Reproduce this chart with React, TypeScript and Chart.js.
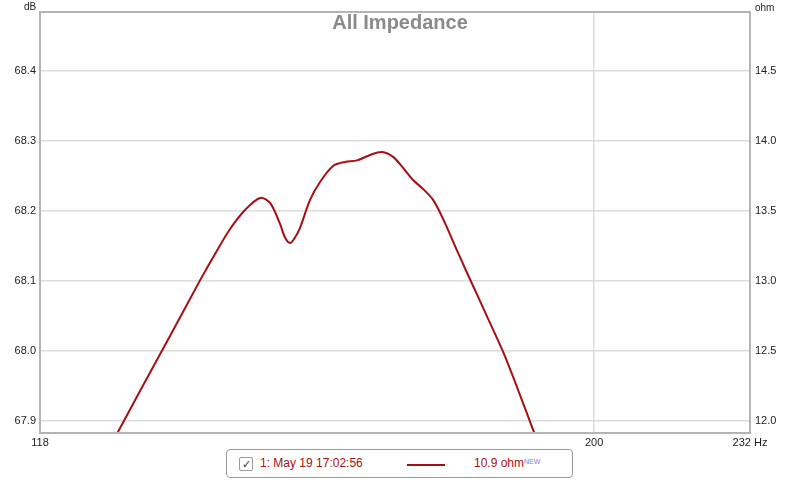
import React, { useEffect, useRef } from "react";
import { Chart, registerables } from "chart.js";

Chart.register(...registerables);

const FREQS: number[] = [
  125.54, 129.79, 133.55, 137.42, 139.4, 141.41, 143.44, 145.5, 146.9, 148.3, 149.01, 149.72,
  150.43, 151.15, 152.6, 154.06, 155.98, 157.77, 159.59, 161.58, 163.43, 165.16, 166.74, 168.33,
  169.94, 171.57, 173.21, 175.7, 178.23, 180.8, 183.4, 186.04, 188.71, 189.98,
];
const OHMS: number[] = [
  11.75, 12.214, 12.607, 13.004, 13.193, 13.371, 13.507, 13.593, 13.557, 13.407, 13.31, 13.271,
  13.31, 13.379, 13.579, 13.707, 13.821, 13.85, 13.861, 13.9, 13.921, 13.886, 13.807, 13.721,
  13.657, 13.579, 13.443, 13.2, 12.964, 12.729, 12.493, 12.221, 11.936, 11.814,
];
const X_TICKS: number[] = [118, 200, 232];
const DB_TICKS: number[] = [67.9, 68.0, 68.1, 68.2, 68.3, 68.4];
const OHM_TICKS: number[] = [12.0, 12.5, 13.0, 13.5, 14.0, 14.5];

const TITLE = "All Impedance";
const LINE_COLOR = "#a50f12";
const FONT = "'Liberation Sans', Arial, sans-serif";

export default function App() {
  const canvasRef = useRef<HTMLCanvasElement | null>(null);

  useEffect(() => {
    document.body.style.margin = "0";
    const canvas = canvasRef.current;
    if (!canvas) return;

    const framePlugin = {
      id: "frameAndTitle",
      afterDatasetsDraw(chart: any) {
        const { ctx, chartArea } = chart;
        ctx.save();
        ctx.strokeStyle = "#b4b4b4";
        ctx.lineWidth = 2;
        ctx.strokeRect(chartArea.left, chartArea.top, chartArea.right - chartArea.left, chartArea.bottom - chartArea.top);
        ctx.fillStyle = "#8a8a8a";
        ctx.font = `bold 20px ${FONT}`;
        ctx.textAlign = "center";
        ctx.textBaseline = "alphabetic";
        ctx.fillText(TITLE, 400, 29);
        ctx.fillStyle = "#222";
        ctx.font = `10px ${FONT}`;
        ctx.textAlign = "left";
        ctx.fillText("dB", 24, 10);
        ctx.fillText("ohm", 755, 11);
        ctx.restore();
      },
    };

    const chart = new Chart(canvas, {
      type: "line",
      data: {
        datasets: [
          {
            label: "1: May 19 17:02:56",
            data: FREQS.map((f, i) => ({ x: f, y: OHMS[i] })),
            borderColor: LINE_COLOR,
            borderWidth: 2,
            pointRadius: 0,
            fill: false,
            tension: 0.3,
            yAxisID: "y1",
          },
        ],
      },
      options: {
        animation: false,
        responsive: false,
        maintainAspectRatio: false,
        layout: { padding: { top: 12, left: 0, right: 0, bottom: 0 } },
        plugins: { legend: { display: false }, tooltip: { enabled: false }, title: { display: false } },
        scales: {
          x: {
            type: "logarithmic",
            min: 118,
            max: 232,
            afterBuildTicks: (scale: any) => {
              scale.ticks = X_TICKS.map((v) => ({ value: v }));
            },
            afterFit: (scale: any) => {
              scale.height = 47;
            },
            ticks: {
              autoSkip: false,
              maxRotation: 0,
              padding: 3,
              color: "#222",
              font: { family: FONT, size: 11 },
              callback: (v: any) => (Number(v) === 232 ? "232 Hz" : String(v)),
            },
            grid: {
              drawTicks: false,
              lineWidth: 1.5,
              color: (c: any) => (c.tick && c.tick.value === 200 ? "#dcdcdc" : "rgba(0,0,0,0)"),
            },
            border: { display: false },
          },
          y: {
            type: "linear",
            position: "left",
            min: 67.883,
            max: 68.484,
            afterBuildTicks: (scale: any) => {
              scale.ticks = DB_TICKS.map((v) => ({ value: v }));
            },
            afterFit: (scale: any) => {
              scale.width = 40;
            },
            ticks: {
              padding: 4,
              color: "#222",
              font: { family: FONT, size: 11 },
              callback: (v: any) => Number(v).toFixed(1),
            },
            grid: { drawTicks: false, color: "#dcdcdc", lineWidth: 1.5 },
            border: { display: false },
          },
          y1: {
            type: "linear",
            position: "right",
            min: 11.914,
            max: 14.921,
            afterBuildTicks: (scale: any) => {
              scale.ticks = OHM_TICKS.map((v) => ({ value: v }));
            },
            afterFit: (scale: any) => {
              scale.width = 50;
            },
            ticks: {
              padding: 5,
              color: "#222",
              font: { family: FONT, size: 11 },
              callback: (v: any) => Number(v).toFixed(1),
            },
            grid: { display: false, drawTicks: false },
            border: { display: false },
          },
        },
      },
      plugins: [framePlugin],
    } as any);

    return () => chart.destroy();
  }, []);

  return (
    <div style={{ position: "fixed", left: 0, top: 0, width: 800, height: 480, background: "#fff", fontFamily: FONT }}>
      <canvas ref={canvasRef} width={800} height={480} style={{ position: "absolute", left: 0, top: 0, width: 800, height: 480 }} />
      <div
        style={{
          position: "absolute",
          left: 226,
          top: 449,
          width: 345,
          height: 27,
          border: "1px solid #999",
          borderRadius: 4,
          background: "#fff",
          boxSizing: "content-box",
        }}
      >
        <div
          style={{
            position: "absolute",
            left: 12,
            top: 7,
            width: 12,
            height: 12,
            border: "1px solid #999",
            borderRadius: 2,
            fontSize: 11,
            lineHeight: "12px",
            textAlign: "center",
            color: "#333",
          }}
        >
          ✓
        </div>
        <div style={{ position: "absolute", left: 33, top: 6, fontSize: 12, color: LINE_COLOR, whiteSpace: "nowrap" }}>
          1: May 19 17:02:56
        </div>
        <div style={{ position: "absolute", left: 180, top: 14, width: 38, height: 2, background: LINE_COLOR }} />
        <div style={{ position: "absolute", left: 247, top: 6, fontSize: 12, color: LINE_COLOR, whiteSpace: "nowrap" }}>
          10.9 ohm
          <span style={{ fontSize: 7, color: "#7b7bf0", verticalAlign: "top", position: "relative", top: 2 }}>NEW</span>
        </div>
      </div>
    </div>
  );
}
